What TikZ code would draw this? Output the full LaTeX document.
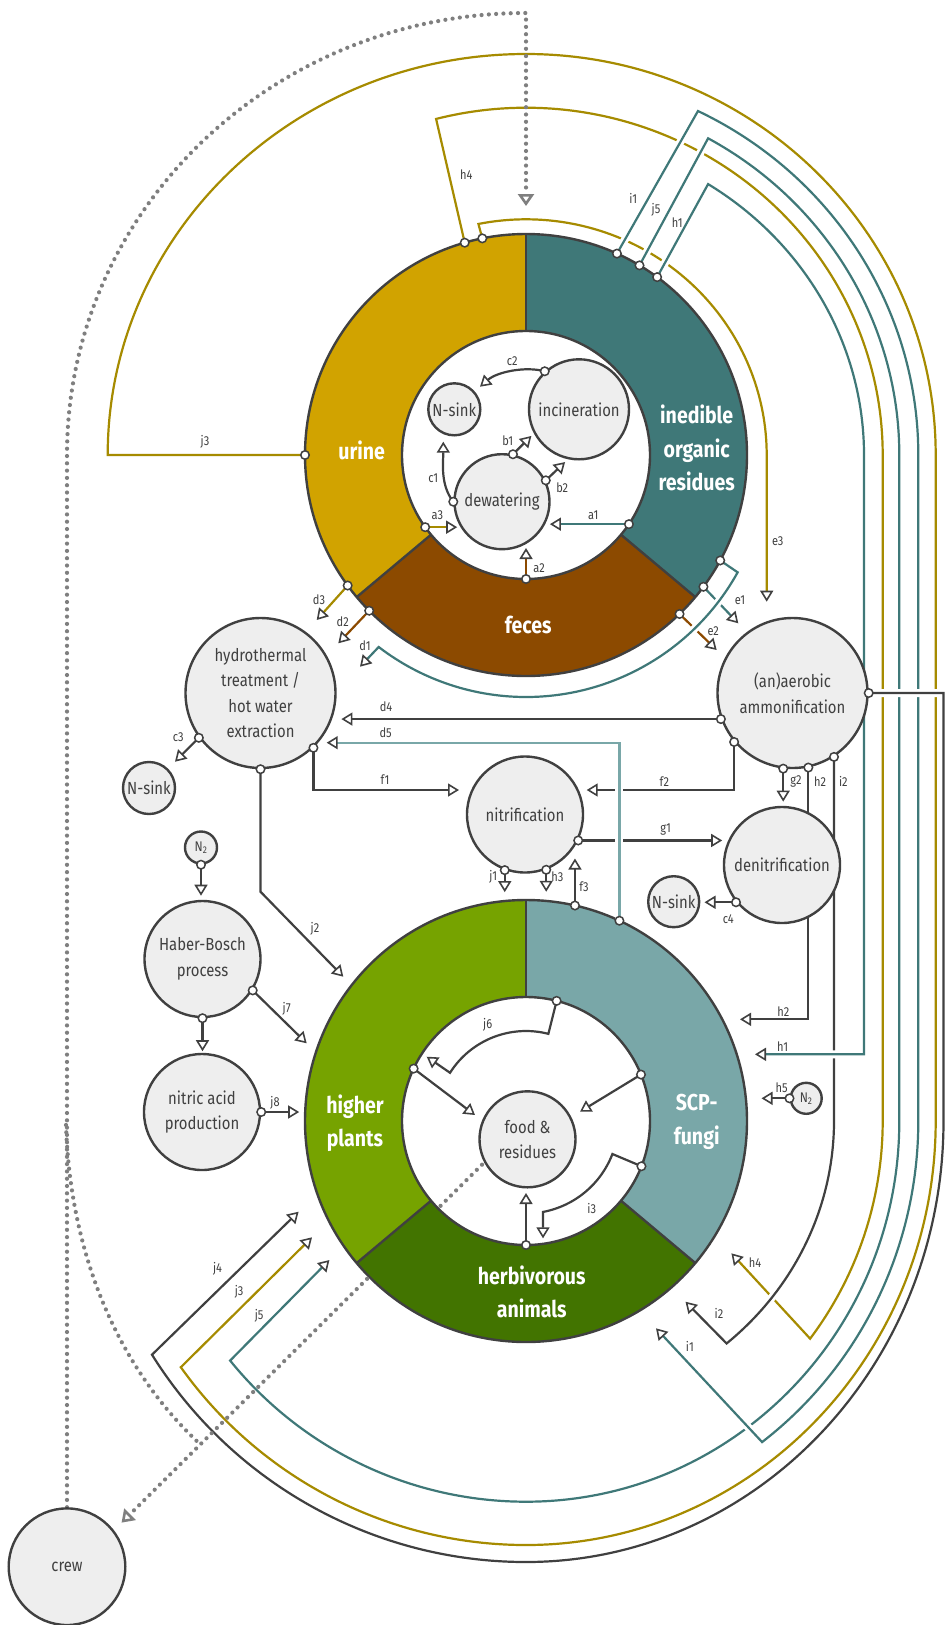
\documentclass[tikz,border=0pt]{standalone}
\usepackage{fontspec}
\setmainfont{Fira Sans}[FakeStretch=0.85]
\usetikzlibrary{arrows.meta,calc}
\pgfdeclarelayer{bg}
\pgfsetlayers{bg,main}
\definecolor{cDk}{HTML}{404040}
\definecolor{cUr}{HTML}{D1A300}
\definecolor{cIn}{HTML}{3F7878}
\definecolor{cFe}{HTML}{8C4A00}
\definecolor{cPl}{HTML}{76A300}
\definecolor{cSc}{HTML}{79A7A8}
\definecolor{cHe}{HTML}{427400}
\definecolor{cOl}{HTML}{A68B00}
\definecolor{cTe}{HTML}{3F7878}
\definecolor{cLt}{HTML}{79A7A8}
\definecolor{cDot}{HTML}{7F7F7F}
\definecolor{cNode}{HTML}{EEEEEE}
\newcommand\ringsec[4]{\fill[#4] ([shift={(#1)}]#2:221) arc[start angle=#2,end angle=#3,radius=221] -- ([shift={(#1)}]#3:124) arc[start angle=#3,end angle=#2,radius=124] -- cycle;}
\begin{document}
\begin{tikzpicture}[x=1pt,y=-1pt,
  box/.style={circle,draw=cDk,fill=cNode,line width=2.4pt,inner sep=0pt,align=center,text=cDk,font=\fontsize{17.5}{25.5}\selectfont},
  port/.style={circle,draw=cDk,fill=white,line width=1.5pt,inner sep=0pt,minimum size=8.5pt},
  ln/.style={line width=2.2pt,draw=cDk},
  tip/.style={-{Triangle[length=11pt,width=13pt,fill=white,color=cDk,line width=1.6pt]}},
  dtip/.style={-{Triangle[length=12pt,width=16pt,fill=white,color=cDot,line width=2.6pt]}},
  halo/.style={preaction={draw=white,line width=8pt,arrows=-}},
  dots/.style={draw=cDot,line width=4.2pt,line cap=round,dash pattern=on 0pt off 7.3pt},
  lab/.style={text=cDk,font=\fontsize{13}{13}\selectfont,inner sep=0pt},
  rlab/.style={text=white,align=center,font=\bfseries\fontsize{23}{33.5}\selectfont}]
\useasboundingbox (0,0) rectangle (946,1625);
\coordinate (T) at (526,455);
\coordinate (B) at (526,1121);
% ring ports
\coordinate (pJ3) at ([shift={(T)}]180:221);
\coordinate (pH4) at ([shift={(T)}]-106.1:221);
\coordinate (pE3) at ([shift={(T)}]-101.4:221);
\coordinate (pI1) at ([shift={(T)}]-65.7:221);
\coordinate (pJ5) at ([shift={(T)}]-59.1:221);
\coordinate (pH1) at ([shift={(T)}]-53.6:221);
\coordinate (pD1) at ([shift={(T)}]28.5:221);
\coordinate (pE1) at ([shift={(T)}]36.6:221);
\coordinate (pE2) at ([shift={(T)}]46:221);
\coordinate (pD3) at ([shift={(T)}]-216.2:221);
\coordinate (pD2) at ([shift={(T)}]-224.8:221);
\coordinate (pA1) at ([shift={(T)}]33.9:124);
\coordinate (pA2) at ([shift={(T)}]90:124);
\coordinate (pA3) at ([shift={(T)}]-215.6:124);
\coordinate (pF3) at ([shift={(B)}]-77.2:221);
\coordinate (pD5) at ([shift={(B)}]-65:221);
\coordinate (pJ6) at ([shift={(B)}]-75.7:124);
\coordinate (pPl) at ([shift={(B)}]-155:124);
\coordinate (pSc) at ([shift={(B)}]-22:124);
\coordinate (pI3) at ([shift={(B)}]21.4:124);
\coordinate (pAn) at ([shift={(B)}]90:124);
% nodes
\node[box,minimum size=52pt] (ns1) at (454.3,409.3) {N-sink};
\node[box,minimum size=100pt] (inc) at (579,409.3) {incineration};
\node[box,minimum size=95pt] (dew) at (502,501.7) {dewatering};
\node[box,minimum size=150pt] (hyd) at (260.5,693) {hydrothermal\\treatment /\\hot water\\extraction};
\node[box,minimum size=52pt] (ns2) at (149,788) {N-sink};
\node[box,minimum size=150pt] (amm) at (792.5,693) {(an)aerobic\\ammonification};
\node[box,minimum size=116pt] (nit) at (525,814.5) {nitrification};
\node[box,minimum size=116pt] (den) at (782,865) {denitrification};
\node[box,minimum size=51pt] (ns3) at (673.7,901.7) {N-sink};
\node[box,minimum size=32pt,font=\fontsize{14}{14}\selectfont] (n2a) at (201,847.5) {N\textsubscript{2}};
\node[box,minimum size=116pt] (hb) at (202.5,959) {Haber-Bosch\\process};
\node[box,minimum size=116pt] (nit2) at (202,1112) {nitric acid\\production};
\node[box,minimum size=31pt,font=\fontsize{14}{14}\selectfont] (n2b) at (806.2,1098.3) {N\textsubscript{2}};
\node[box,minimum size=96pt] (food) at (527.5,1139.3) {food \&\\residues};
\node[box,minimum size=116.6pt] (crew) at (67,1566.7) {crew};
\begin{pgfonlayer}{bg}
\fill[white] (0,0) rectangle (946,1625);
\ringsec{T}{-90}{-220}{cUr}
\ringsec{T}{-220}{-320}{cFe}
\ringsec{T}{-320}{-450}{cIn}
\ringsec{B}{-90}{-220}{cPl}
\ringsec{B}{-220}{-320}{cHe}
\ringsec{B}{-320}{-450}{cSc}
\foreach \c in {T,B}{
  \draw[cDk,line width=2.4pt] (\c) circle[radius=221] (\c) circle[radius=124];
  \foreach \a in {-90,-220,-320} \draw[cDk,line width=2.4pt] ([shift={(\c)}]\a:124) -- ([shift={(\c)}]\a:221);
}
% olive loops
\draw[ln,draw=cOl,tip] (pE3) -- ([shift={(T)}]-101.4:240.7 and 235.7) arc[start angle=-101.4,end angle=0,x radius=240.7,y radius=235.7] -- (766.7,601.7);
\draw[ln,draw=cOl,tip] (pH4) -- ([shift={(T)}]-104.6:356.7 and 347.3) arc[start angle=-104.6,end angle=0,x radius=356.7,y radius=347.3] -- (882.7,1121) arc[start angle=0,end angle=37.2,x radius=356.7,y radius=360] -- (731.4,1253.3);
\draw[ln,draw=cOl,tip] (pJ3) -- (107.7,455) arc[start angle=180,end angle=270,x radius=418.3,y radius=401] arc[start angle=270,end angle=360,x radius=409.7,y radius=401] -- (935.7,1121) arc[start angle=0,end angle=90,x radius=409.7,y radius=424] arc[start angle=90,end angle=144.5,radius=424] -- (312,1237.3);
% i2 over h4
\draw[ln,tip,halo] (amm.-57.4) -- (amm.-57.4 |- B) arc[start angle=0,end angle=49.4,x radius=307.5,y radius=293] -- (685.5,1301.7);
% teal loops
\draw[ln,draw=cTe,tip,halo] (pJ5) -- ([shift={(T)}]-60.8:373.3 and 362.8) arc[start angle=-60.8,end angle=0,x radius=373.3,y radius=362.8] -- (899.3,1121) arc[start angle=0,end angle=90,x radius=373.3,y radius=380.7] arc[start angle=90,end angle=141,radius=380.7] -- (329.4,1260);
\draw[ln,draw=cTe,tip,halo] (pI1) -- ([shift={(T)}]-64:392.3 and 382.7) arc[start angle=-64,end angle=0,x radius=392.3,y radius=382.7] -- (918.3,1121) arc[start angle=0,end angle=53,x radius=392.3,y radius=402] -- (656,1328.3);
\draw[ln,draw=cTe,tip,halo] (pH1) -- ([shift={(T)}]-57.4:338 and 321.6) arc[start angle=-57.4,end angle=0,x radius=338,y radius=321.6] -- (864,1054.3) -- (755,1054.3);
% j4
\draw[ln,tip,halo] (amm.east) -- (943.5,693) -- (943.5,1121) arc[start angle=0,end angle=90,x radius=417.5,y radius=441] arc[start angle=90,end angle=148,radius=441] -- (298.6,1211.7);
% d/e lines
\draw[ln,draw=cOl,tip] (pD3) -- (316.7,620);
\draw[ln,draw=cFe,tip] (pD2) -- (338.3,643.3);
\draw[ln,draw=cTe,tip] (pE1) -- (738.3,623.3);
\draw[ln,draw=cFe,tip] (pE2) -- (716.7,650);
\draw[ln,draw=cTe,tip,halo] (pD1) -- ([shift={(T)}]29:242) arc[start angle=29,end angle=127.5,radius=242] -- (360,666.7);
\draw[ln,tip] (amm.200) -- ++(-379.5,0);
\draw[ln,tip] (amm.220.6) |- (586.7,790);
\draw[ln,tip] (amm.-97.5) -- ++(0,33);
\draw[ln,tip] (amm.-78.4) |- (740,1019.3);
\draw[ln,tip] (nit.-26.3) -- ++(144,0);
\draw[ln,draw=cLt,tip,halo] (pD5) |- (326.7,742.7);
\draw[ln,tip] (hyd.-46.6) |- (459,790);
\draw[ln,tip] (hyd.south) -- (260.5,891.7) -- (343.3,976.7);
\draw[ln,tip] (hyd.216.8) -- (175,761.7);
\draw[ln,tip] (den.219.5) -- ++(-31.5,0);
\draw[ln,tip] (nit.-110.7) -- ++(0,22);
\draw[ln,tip] (nit.-69) -- ++(0,22);
\draw[ln,tip] (pF3) -- ++(0,-47);
\draw[ln,tip] (n2a.south) -- ++(0,31);
\draw[ln,tip] (hb.south) -- ++(0,33);
\draw[ln,tip] (hb.-32.2) -- (306.7,1043.3);
\draw[ln,tip] (nit2.east) -- ++(38,0);
\draw[ln,tip] (n2b.west) -- ++(-28,0);
% top inner
\draw[ln,draw=cTe,tip] (pA1) -- ++(-79,0);
\draw[ln,draw=cFe,tip] (pA2) -- ++(0,-31);
\draw[ln,draw=cOl,tip] (pA3) -- ++(32,0);
\draw[ln,tip] (dew.77.7) -- ++(18.4,-18.3);
\draw[ln,tip] (dew.26.4) -- ++(19.3,-18.3);
\draw[ln,tip] (dew.west) .. controls (440,485) and (443.3,462) .. (443.3,441.7);
\draw[ln,tip] (inc.132.6) .. controls (525,366) and (497,372) .. (480,386.7);
% bottom inner
\draw[ln,tip] (pJ6) -- ([shift={(B)}]-75.6:90) arc[start angle=-75.6,end angle=-147.6,radius=90] -- (426.7,1056.7);
\draw[ln,tip] (pPl) -- (475,1115);
\draw[ln,tip] (pSc) -- (580,1111.7);
\draw[ln,tip] (pI3) -- ([shift={(B)}]20.9:92.5) arc[start angle=20.9,end angle=79.4,radius=92.5] -- ++(0,26.4);
\draw[ln,tip] (pAn) -- ++(0,-52);
% dotted crew flows
\draw[dots] ([shift={(B)}]135.2:62) -- ([shift={(B)}]135.2:121);
\draw[dots,dtip] ([shift={(B)}]135.2:224) -- ([shift={(B)}]135.2:570);
\draw[dots,dtip] (crew.north) -- (67,455) arc[start angle=180,end angle=270,x radius=459,y radius=442] -- (526,206);
\end{pgfonlayer}
% dotted branch from the crew line to the food line
\coordinate (dStart) at (66,1125);
\coordinate (dEnd) at (200.3,1444.4);
\draw[dots] (dStart) .. controls (70,1250) and (115,1365) .. (dEnd);
% ports
\foreach \p in {pJ3,pH4,pE3,pI1,pJ5,pH1,pD1,pE1,pE2,pD3,pD2,pA1,pA2,pA3,pF3,pD5,pJ6,pPl,pSc,pI3,pAn,dew.77.7,dew.26.4,dew.west,inc.132.6,hyd.216.8,hyd.south,hyd.-46.6,amm.east,amm.200,amm.220.6,amm.-97.5,amm.-78.4,amm.-57.4,nit.-110.7,nit.-69,nit.-26.3,den.219.5,hb.south,hb.-32.2,n2a.south,nit2.east,n2b.west}
  \node[port] at (\p) {};
% ring labels
\node[rlab] at (361.7,450) {urine};
\node[rlab] at (696.7,448.3) {inedible\\organic\\residues};
\node[rlab] at (528.3,625) {feces};
\node[rlab] at (355,1123) {higher\\plants};
\node[rlab] at (696.7,1121.7) {SCP-\\fungi};
\node[rlab] at (531.7,1291.7) {herbivorous\\animals};
% connector labels
\node[lab] at (593.3,515.7) {a1};
\node[lab] at (539,568.3) {a2};
\node[lab] at (437.3,515) {a3};
\node[lab] at (507.7,440.7) {b1};
\node[lab] at (562.3,487.3) {b2};
\node[lab] at (433.3,478.3) {c1};
\node[lab] at (512.3,361) {c2};
\node[lab] at (178.3,736.7) {c3};
\node[lab] at (728.3,919.3) {c4};
\node[lab] at (365,646) {d1};
\node[lab] at (342.7,621.7) {d2};
\node[lab] at (319,599.3) {d3};
\node[lab] at (386,706.7) {d4};
\node[lab] at (385.7,732.7) {d5};
\node[lab] at (740,600.7) {e1};
\node[lab] at (713.3,630.7) {e2};
\node[lab] at (777.7,540.7) {e3};
\node[lab] at (385,780) {f1};
\node[lab] at (664.3,781.7) {f2};
\node[lab] at (584,886.7) {f3};
\node[lab] at (665.7,829.3) {g1};
\node[lab] at (796,781.7) {g2};
\node[lab] at (677.3,222.7) {h1};
\node[lab] at (782.7,1046.7) {h1};
\node[lab] at (820,781.7) {h2};
\node[lab] at (783.3,1011.7) {h2};
\node[lab] at (557.3,876.7) {h3};
\node[lab] at (466.2,175) {h4};
\node[lab] at (755,1262.3) {h4};
\node[lab] at (781.7,1087.3) {h5};
\node[lab] at (633.3,198.3) {i1};
\node[lab] at (689.9,1346.7) {i1};
\node[lab] at (843.3,781.7) {i2};
\node[lab] at (719,1313.3) {i2};
\node[lab] at (591.7,1208.3) {i3};
\node[lab] at (493.3,876.7) {j1};
\node[lab] at (315,928.3) {j2};
\node[lab] at (205,441.7) {j3};
\node[lab] at (239.2,1291.7) {j3};
\node[lab] at (217.6,1268.3) {j4};
\node[lab] at (656,210) {j5};
\node[lab] at (259.2,1315.7) {j5};
\node[lab] at (487.7,1025) {j6};
\node[lab] at (286.7,1008.3) {j7};
\node[lab] at (275,1102.7) {j8};
\end{tikzpicture}
\end{document}
